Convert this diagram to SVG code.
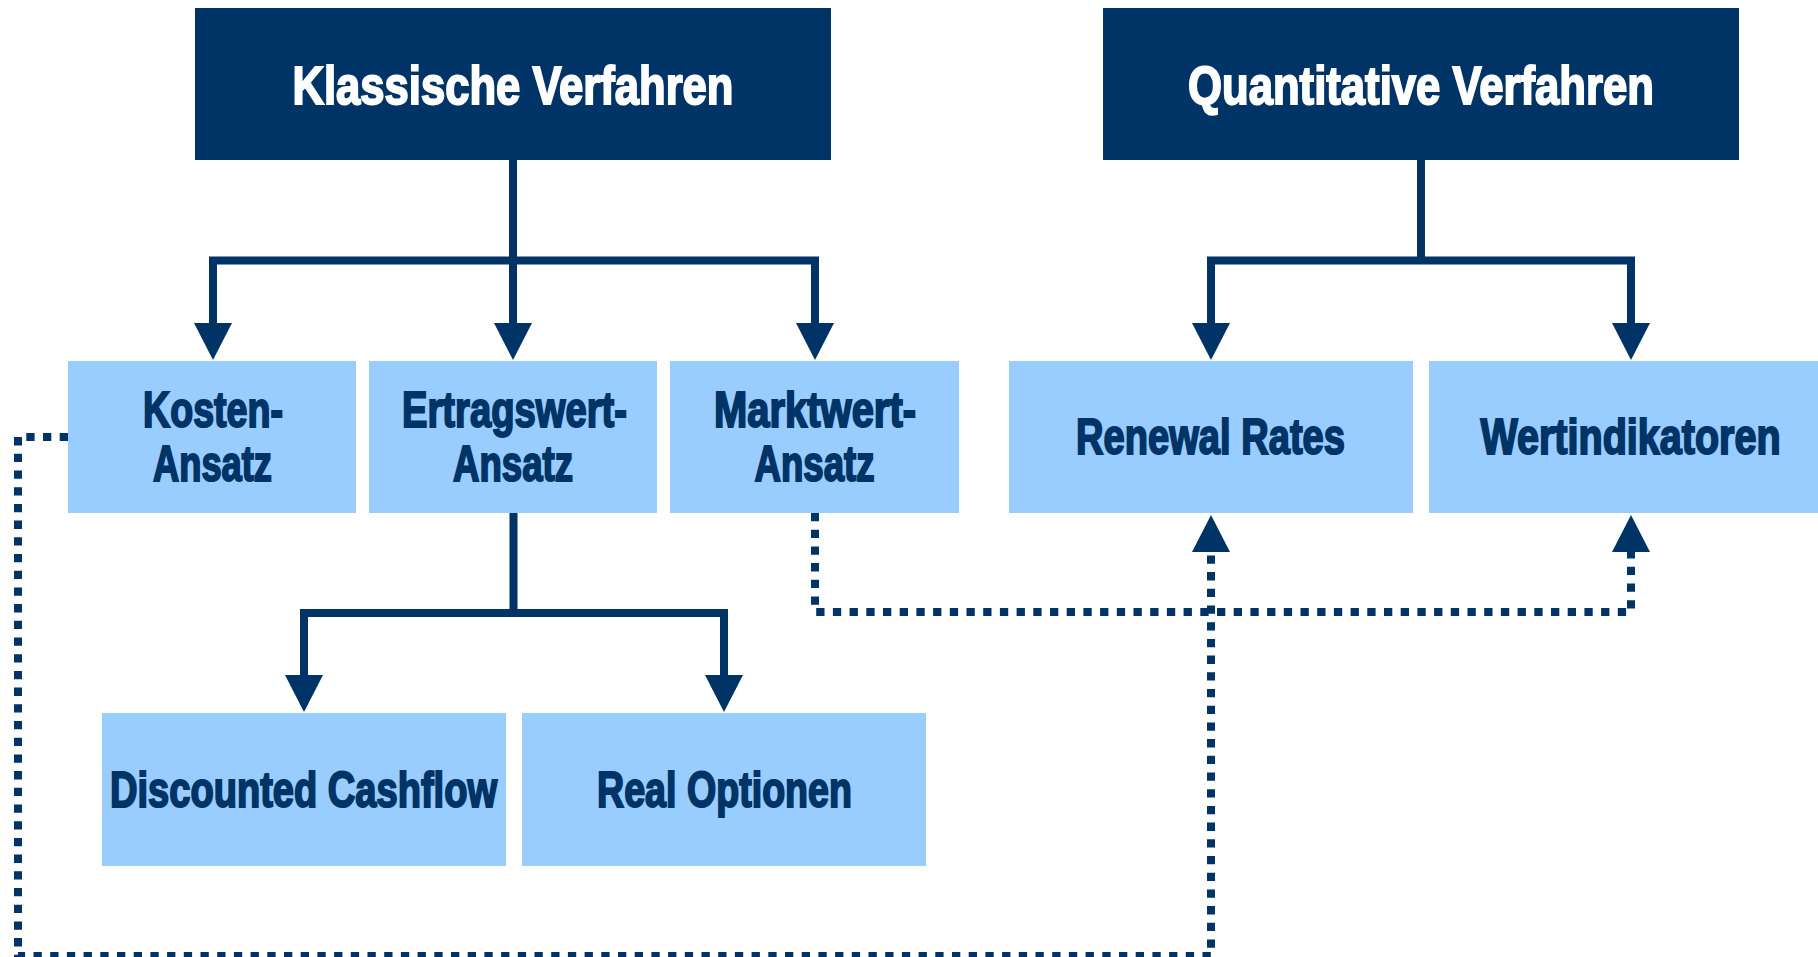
<svg xmlns="http://www.w3.org/2000/svg" width="1818" height="957" viewBox="0 0 1818 957">
<style>
.top{fill:#003366}
.sub{fill:#99CCFF}
.tt{font-family:"Liberation Sans",Arial,sans-serif;font-weight:bold;font-size:54px;fill:#ffffff;text-anchor:middle;stroke:#ffffff;stroke-width:2}
.st{font-family:"Liberation Sans",Arial,sans-serif;font-weight:bold;font-size:50px;fill:#003366;text-anchor:middle;stroke:#003366;stroke-width:2}
.solid{fill:none;stroke:#003366;stroke-width:8}
.dot{fill:none;stroke:#003366;stroke-width:8;stroke-dasharray:8.3 8.4}
</style>
<defs>
<marker id="ah" markerUnits="userSpaceOnUse" markerWidth="38" markerHeight="38" refX="0" refY="19" orient="auto-start-reverse" viewBox="0 0 38 38">
<path d="M0,0 L37,19 L0,38 z" fill="#003366"/>
</marker>
</defs>
<g id="connectors">
<path class="solid" d="M513,160 V260.5"/>
<path class="solid" d="M213,323 V260.5 H815 V323" marker-start="url(#ah)" marker-end="url(#ah)"/>
<path class="solid" d="M513,260.5 V323" marker-end="url(#ah)"/>
<path class="solid" d="M1421,160 V260.5"/>
<path class="solid" d="M1211,323 V260.5 H1631 V323" marker-start="url(#ah)" marker-end="url(#ah)"/>
<path class="solid" d="M513.5,513 V613"/>
<path class="solid" d="M304,675 V613 H724 V675" marker-start="url(#ah)" marker-end="url(#ah)"/>
<path class="dot" d="M68,437 H18 V956 H1211 V552" marker-end="url(#ah)"/>
<path class="dot" d="M815,513 V612 H1631 V552" marker-end="url(#ah)"/>
</g>
<g id="klassische">
<rect class="top" x="195" y="8" width="636" height="152"/>
<text class="tt" x="513" y="104" textLength="441" lengthAdjust="spacingAndGlyphs">Klassische Verfahren</text>
</g>
<g id="quantitative">
<rect class="top" x="1103" y="8" width="636" height="152"/>
<text class="tt" x="1421" y="104" textLength="466" lengthAdjust="spacingAndGlyphs">Quantitative Verfahren</text>
</g>
<g id="kosten">
<rect class="sub" x="68" y="361" width="288" height="152"/>
<text class="st" x="213" y="427" textLength="140" lengthAdjust="spacingAndGlyphs">Kosten-</text>
<text class="st" x="212.5" y="481" textLength="119" lengthAdjust="spacingAndGlyphs">Ansatz</text>
</g>
<g id="ertragswert">
<rect class="sub" x="369" y="361" width="288" height="152"/>
<text class="st" x="514.5" y="427" textLength="225" lengthAdjust="spacingAndGlyphs">Ertragswert-</text>
<text class="st" x="513" y="481" textLength="120" lengthAdjust="spacingAndGlyphs">Ansatz</text>
</g>
<g id="marktwert">
<rect class="sub" x="670" y="361" width="289" height="152"/>
<text class="st" x="815" y="427" textLength="202" lengthAdjust="spacingAndGlyphs">Marktwert-</text>
<text class="st" x="814.5" y="481" textLength="120" lengthAdjust="spacingAndGlyphs">Ansatz</text>
</g>
<g id="renewal">
<rect class="sub" x="1009" y="361" width="404" height="152"/>
<text class="st" x="1210.5" y="454" textLength="269" lengthAdjust="spacingAndGlyphs">Renewal Rates</text>
</g>
<g id="wertindikatoren">
<rect class="sub" x="1429" y="361" width="389" height="152"/>
<text class="st" x="0" y="0" transform="translate(1630.5 454) scale(0.791 1)">Wertindikatoren</text>
</g>
<g id="dcf">
<rect class="sub" x="102" y="713" width="404" height="153"/>
<text class="st" x="303.5" y="807" textLength="387" lengthAdjust="spacingAndGlyphs">Discounted Cashflow</text>
</g>
<g id="realoptionen">
<rect class="sub" x="522" y="713" width="404" height="153"/>
<text class="st" x="724.5" y="807" textLength="255" lengthAdjust="spacingAndGlyphs">Real Optionen</text>
</g>
</svg>
